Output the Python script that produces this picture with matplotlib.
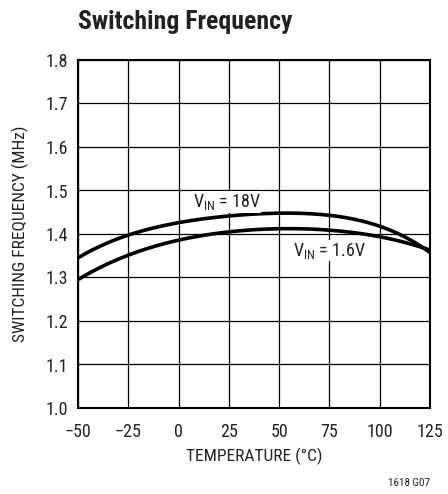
import matplotlib
matplotlib.use("Agg")
import matplotlib.pyplot as plt
from matplotlib import font_manager as fm
import numpy as np

names = {f.name for f in fm.fontManager.ttflist}
fam = "Liberation Sans"
for cand in ["Helvetica Condensed", "Nimbus Sans Narrow", "Liberation Sans Narrow", "Arial Narrow",
             "Roboto Condensed", "Archivo Narrow", "PT Sans Narrow", "Pragati Narrow"]:
    if cand in names:
        fam = cand
        break
plt.rcParams['font.family'] = [fam, 'DejaVu Sans']
plt.rcParams['mathtext.fontset'] = 'custom'
plt.rcParams['mathtext.rm'] = fam

temps = [-50, -25, 0, 25, 50, 75, 100, 125]
f_18v = [1.345, 1.398, 1.425, 1.442, 1.449, 1.441, 1.419, 1.357]
f_16v = [1.295, 1.352, 1.385, 1.405, 1.413, 1.408, 1.394, 1.363]
xticks = [-50, -25, 0, 25, 50, 75, 100, 125]
yticks = [1.0, 1.1, 1.2, 1.3, 1.4, 1.5, 1.6, 1.7, 1.8]

fig = plt.figure(figsize=(4.48, 4.94), dpi=100)
ax = fig.add_axes([78/448, 1-408/494, 352/448, 348/494])

def smooth(x, y):
    xs = np.linspace(min(x), max(x), 200)
    c = np.polyfit(x, y, 4)
    return xs, np.polyval(c, xs)

for ys in (f_18v, f_16v):
    xs, yy = smooth(temps, ys)
    ax.plot(xs, yy, color='black', lw=2.6, solid_capstyle='butt')

ax.set_xlim(-50, 125)
ax.set_ylim(1.0, 1.8)
ax.set_xticks(xticks)
ax.set_xticklabels([str(t).replace('-', '\u2212') for t in xticks])
ax.set_yticks(yticks)
ax.set_yticklabels([f"{v:.1f}" for v in yticks])
ax.grid(True, color='black', lw=0.9)
ax.tick_params(length=0, labelsize=13, colors='#222222')
ax.tick_params(axis='x', pad=11)
ax.tick_params(axis='y', pad=7)
for s in ax.spines.values():
    s.set_linewidth(1.5)
ax.set_xlabel("TEMPERATURE (°C)", fontsize=12.5, labelpad=5, color='#222222')
ax.set_ylabel("SWITCHING FREQUENCY (MHz)", fontsize=12.5, labelpad=12, color='#222222')

ax.text(7, 1.462, r"V$_\mathregular{IN}$ = 18V", fontsize=13, ha='left', va='baseline', color='#222222',
        bbox=dict(facecolor='white', edgecolor='none', pad=0.5))
ax.text(57, 1.35, r"V$_\mathregular{IN}$ = 1.6V", fontsize=13, ha='left', va='baseline', color='#222222',
        bbox=dict(facecolor='white', edgecolor='none', pad=0.5))

fig.text(78/448, 1-22/494, "Switching Frequency", fontsize=18.5, fontweight='bold', ha='left', va='center', color='#222222')
fig.text(430/448, 1-483/494, "1618 G07", fontsize=8, ha='right', va='center', color='#222222')

fig.savefig("out.png", dpi=100)
